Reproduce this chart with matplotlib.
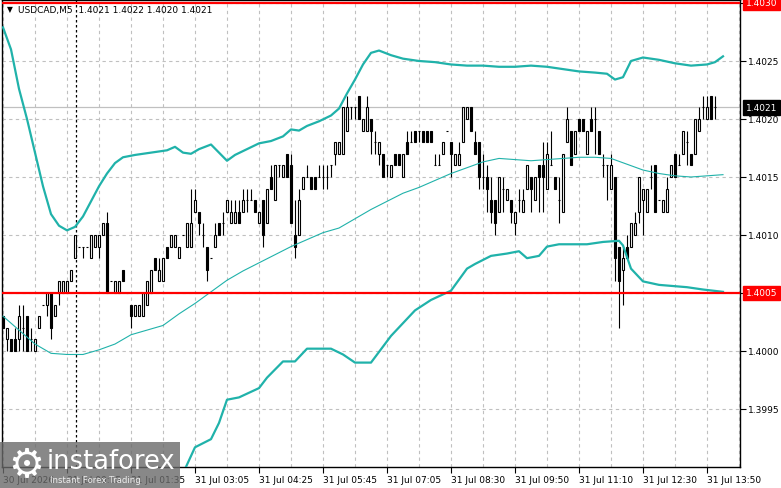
import numpy as np
import matplotlib.pyplot as plt
from matplotlib.patches import Rectangle

# USDCAD M5 candles (bar 0 = leftmost)
opens = [1.4003, 1.4001, 1.4001, 1.4001, 1.4001, 1.4002, 1.4003, 1.4001, 1.4000, 1.4002,
         1.4004, 1.4004, 1.4005, 1.4003, 1.4005, 1.4005, 1.4005, 1.4006, 1.4008, 1.4009,
         1.4009, 1.4009, 1.4008, 1.4009, 1.4009, 1.4010, 1.4011, 1.4006, 1.4005, 1.4005,
         1.4007, 1.4005, 1.4004, 1.4003, 1.4003, 1.4003, 1.4004, 1.4005, 1.4008, 1.4006,
         1.4006, 1.4009, 1.4009, 1.4009, 1.4008, 1.4010, 1.4009, 1.4009, 1.4012, 1.4012,
         1.4010, 1.4009, 1.4008, 1.4009, 1.4011, 1.4011, 1.4012, 1.4011, 1.4011, 1.4012,
         1.4012, 1.4013, 1.4013, 1.4013, 1.4011, 1.4013, 1.4011, 1.4015, 1.4013, 1.4016,
         1.4015, 1.4017, 1.4016, 1.4010, 1.4010, 1.4014, 1.4015, 1.4015, 1.4015, 1.4015,
         1.4015, 1.4015, 1.4016, 1.4017, 1.4017, 1.4017, 1.4019, 1.4021, 1.4021, 1.4022,
         1.4019, 1.4019, 1.4020, 1.4018, 1.4017, 1.4017, 1.4016, 1.4015, 1.4017, 1.4017,
         1.4015, 1.4018, 1.4018, 1.4019, 1.4019, 1.4019, 1.4019, 1.4019, 1.4016, 1.4016,
         1.4017, 1.4019, 1.4018, 1.4016, 1.4016, 1.4018, 1.4020, 1.4021, 1.4018, 1.4018,
         1.4015, 1.4015, 1.4013, 1.4013, 1.4012, 1.4014, 1.4013, 1.4013, 1.4011, 1.4013,
         1.4012, 1.4014, 1.4015, 1.4013, 1.4016, 1.4016, 1.4014, 1.4016, 1.4015, 1.4013,
         1.4012, 1.4018, 1.4019, 1.4017, 1.4020, 1.4020, 1.4017, 1.4020, 1.4020, 1.4019,
         1.4016, 1.4016, 1.4014, 1.4015, 1.4009, 1.4007, 1.4009, 1.4009, 1.4010, 1.4012,
         1.4013, 1.4012, 1.4015, 1.4016, 1.4013, 1.4012, 1.4012, 1.4015, 1.4017, 1.4016,
         1.4017, 1.4018, 1.4017, 1.4017, 1.4019, 1.4021, 1.4020, 1.4022, 1.4021]
highs = [1.4003, 1.4002, 1.4001, 1.4002, 1.4004, 1.4004, 1.4003, 1.4002, 1.4001, 1.4003,
         1.4004, 1.4005, 1.4005, 1.4004, 1.4006, 1.4006, 1.4006, 1.4007, 1.4010, 1.4009,
         1.4009, 1.4009, 1.4010, 1.4010, 1.4010, 1.4011, 1.4012, 1.4006, 1.4006, 1.4006,
         1.4007, 1.4005, 1.4004, 1.4004, 1.4004, 1.4005, 1.4006, 1.4007, 1.4008, 1.4008,
         1.4008, 1.4009, 1.4010, 1.4010, 1.4009, 1.4010, 1.4011, 1.4014, 1.4014, 1.4012,
         1.4011, 1.4009, 1.4008, 1.4011, 1.4011, 1.4012, 1.4013, 1.4013, 1.4013, 1.4013,
         1.4014, 1.4014, 1.4014, 1.4013, 1.4012, 1.4013, 1.4014, 1.4016, 1.4016, 1.4016,
         1.4016, 1.4017, 1.4017, 1.4013, 1.4014, 1.4015, 1.4016, 1.4015, 1.4015, 1.4016,
         1.4016, 1.4016, 1.4016, 1.4018, 1.4018, 1.4021, 1.4022, 1.4021, 1.4021, 1.4022,
         1.4020, 1.4022, 1.4020, 1.4019, 1.4018, 1.4017, 1.4016, 1.4016, 1.4017, 1.4017,
         1.4017, 1.4019, 1.4019, 1.4019, 1.4019, 1.4019, 1.4019, 1.4019, 1.4017, 1.4017,
         1.4018, 1.4019, 1.4018, 1.4017, 1.4018, 1.4021, 1.4021, 1.4021, 1.4019, 1.4018,
         1.4017, 1.4016, 1.4015, 1.4013, 1.4015, 1.4015, 1.4014, 1.4013, 1.4012, 1.4014,
         1.4014, 1.4016, 1.4015, 1.4015, 1.4016, 1.4018, 1.4018, 1.4019, 1.4015, 1.4015,
         1.4017, 1.4021, 1.4019, 1.4019, 1.4020, 1.4020, 1.4019, 1.4021, 1.4021, 1.4019,
         1.4017, 1.4016, 1.4017, 1.4015, 1.4009, 1.4009, 1.4010, 1.4011, 1.4012, 1.4015,
         1.4014, 1.4014, 1.4016, 1.4016, 1.4013, 1.4013, 1.4015, 1.4016, 1.4017, 1.4017,
         1.4019, 1.4019, 1.4017, 1.4020, 1.4021, 1.4022, 1.4022, 1.4022, 1.4022]
lows = [1.4002, 1.4000, 1.4000, 1.4000, 1.4000, 1.4000, 1.4000, 1.4000, 1.4000, 1.4002,
        1.4004, 1.4003, 1.4001, 1.4003, 1.4004, 1.4005, 1.4005, 1.4006, 1.4008, 1.4009,
        1.4008, 1.4009, 1.4008, 1.4009, 1.4008, 1.4010, 1.4005, 1.4006, 1.4005, 1.4005,
        1.4006, 1.4005, 1.4002, 1.4003, 1.4003, 1.4003, 1.4004, 1.4005, 1.4007, 1.4006,
        1.4006, 1.4008, 1.4009, 1.4009, 1.4008, 1.4010, 1.4009, 1.4009, 1.4012, 1.4010,
        1.4009, 1.4006, 1.4008, 1.4009, 1.4010, 1.4010, 1.4012, 1.4011, 1.4011, 1.4011,
        1.4012, 1.4012, 1.4013, 1.4012, 1.4011, 1.4009, 1.4011, 1.4014, 1.4013, 1.4015,
        1.4015, 1.4015, 1.4011, 1.4008, 1.4010, 1.4014, 1.4015, 1.4014, 1.4014, 1.4015,
        1.4014, 1.4014, 1.4015, 1.4016, 1.4017, 1.4017, 1.4019, 1.4020, 1.4020, 1.4020,
        1.4019, 1.4019, 1.4017, 1.4017, 1.4016, 1.4015, 1.4015, 1.4015, 1.4016, 1.4016,
        1.4015, 1.4017, 1.4018, 1.4018, 1.4018, 1.4018, 1.4018, 1.4018, 1.4016, 1.4016,
        1.4017, 1.4019, 1.4015, 1.4016, 1.4016, 1.4018, 1.4020, 1.4019, 1.4017, 1.4014,
        1.4014, 1.4012, 1.4011, 1.4010, 1.4012, 1.4012, 1.4013, 1.4011, 1.4010, 1.4012,
        1.4012, 1.4014, 1.4012, 1.4013, 1.4012, 1.4012, 1.4014, 1.4016, 1.4014, 1.4011,
        1.4012, 1.4018, 1.4016, 1.4017, 1.4019, 1.4019, 1.4017, 1.4019, 1.4017, 1.4017,
        1.4015, 1.4013, 1.4014, 1.4006, 1.4002, 1.4004, 1.4008, 1.4009, 1.4010, 1.4011,
        1.4010, 1.4012, 1.4014, 1.4012, 1.4013, 1.4012, 1.4012, 1.4015, 1.4015, 1.4016,
        1.4017, 1.4016, 1.4016, 1.4017, 1.4019, 1.4020, 1.4020, 1.4020, 1.4020]
closes = [1.4002, 1.4002, 1.4000, 1.4000, 1.4003, 1.4002, 1.4000, 1.4001, 1.4001, 1.4003,
          1.4004, 1.4005, 1.4002, 1.4004, 1.4006, 1.4006, 1.4006, 1.4007, 1.4010, 1.4009,
          1.4009, 1.4009, 1.4010, 1.4010, 1.4010, 1.4011, 1.4005, 1.4006, 1.4006, 1.4006,
          1.4006, 1.4005, 1.4003, 1.4004, 1.4004, 1.4005, 1.4006, 1.4007, 1.4007, 1.4007,
          1.4008, 1.4008, 1.4010, 1.4010, 1.4009, 1.4010, 1.4011, 1.4011, 1.4013, 1.4011,
          1.4010, 1.4007, 1.4008, 1.4010, 1.4010, 1.4011, 1.4013, 1.4012, 1.4012, 1.4011,
          1.4013, 1.4013, 1.4013, 1.4012, 1.4012, 1.4010, 1.4014, 1.4014, 1.4016, 1.4016,
          1.4016, 1.4015, 1.4011, 1.4009, 1.4013, 1.4015, 1.4015, 1.4014, 1.4014, 1.4015,
          1.4015, 1.4015, 1.4016, 1.4018, 1.4018, 1.4021, 1.4021, 1.4021, 1.4021, 1.4020,
          1.4020, 1.4021, 1.4019, 1.4018, 1.4018, 1.4015, 1.4016, 1.4016, 1.4016, 1.4016,
          1.4017, 1.4017, 1.4018, 1.4018, 1.4019, 1.4018, 1.4018, 1.4018, 1.4016, 1.4016,
          1.4018, 1.4019, 1.4017, 1.4017, 1.4017, 1.4021, 1.4021, 1.4019, 1.4017, 1.4015,
          1.4015, 1.4014, 1.4012, 1.4011, 1.4015, 1.4014, 1.4014, 1.4012, 1.4012, 1.4013,
          1.4013, 1.4016, 1.4014, 1.4015, 1.4015, 1.4015, 1.4017, 1.4016, 1.4014, 1.4013,
          1.4017, 1.4020, 1.4016, 1.4019, 1.4019, 1.4019, 1.4019, 1.4019, 1.4020, 1.4017,
          1.4016, 1.4016, 1.4016, 1.4008, 1.4006, 1.4008, 1.4008, 1.4011, 1.4011, 1.4015,
          1.4014, 1.4014, 1.4015, 1.4012, 1.4013, 1.4013, 1.4014, 1.4016, 1.4015, 1.4016,
          1.4019, 1.4018, 1.4016, 1.4020, 1.4020, 1.4021, 1.4021, 1.4020, 1.4021]

# Bollinger bands (20), sampled along the bars
upper_idx = [0, 2, 4, 6, 8, 10, 12, 14, 16, 18, 20, 22, 24, 26, 28, 30, 33, 37, 41, 43,
             45, 47, 49, 52, 54, 56, 58, 61, 64, 67, 70, 72, 74, 76, 79, 82, 84, 86, 88, 90,
             92, 94, 97, 100, 104, 108, 112, 116, 120, 124, 128, 132, 136, 140, 144, 148,
             151, 153, 155, 157, 160, 164, 168, 172, 176, 178, 180]
upper_val = [1.40279, 1.40260, 1.40226, 1.40200, 1.40171, 1.40142, 1.40118, 1.40108, 1.40104, 1.40107,
             1.40116, 1.40129, 1.40142, 1.40153, 1.40162, 1.40167, 1.40169, 1.40171, 1.40173, 1.40176,
             1.40171, 1.40170, 1.40174, 1.40178, 1.40171, 1.40164, 1.40169, 1.40174, 1.40179, 1.40181,
             1.40185, 1.40191, 1.40190, 1.40194, 1.40198, 1.40203, 1.40209, 1.40222, 1.40234, 1.40247,
             1.40257, 1.40259, 1.40255, 1.40252, 1.40250, 1.40249, 1.40247, 1.40246, 1.40246, 1.40245,
             1.40245, 1.40246, 1.40245, 1.40243, 1.40241, 1.40240, 1.40239, 1.40234, 1.40236, 1.40250,
             1.40253, 1.40251, 1.40248, 1.40246, 1.40247, 1.40249, 1.40254]
mid_idx = list(range(0, 181, 4))
mid_val = [1.40030, 1.40018, 1.40006, 1.39998, 1.39997, 1.39997, 1.40001, 1.40006, 1.40014, 1.40018,
           1.40022, 1.40032, 1.40041, 1.40051, 1.40061, 1.40069, 1.40076, 1.40083, 1.40090, 1.40096,
           1.40102, 1.40106, 1.40114, 1.40122, 1.40129, 1.40136, 1.40141, 1.40147, 1.40153, 1.40158,
           1.40163, 1.40166, 1.40165, 1.40164, 1.40165, 1.40166, 1.40167, 1.40167, 1.40166, 1.40161,
           1.40156, 1.40153, 1.40151, 1.40150, 1.40151, 1.40152]
lower_idx = [43, 46, 48, 52, 54, 56, 59, 64, 66, 70, 73, 76, 82, 85, 88, 92, 97, 103, 107, 112,
             116, 118, 122, 126, 129, 131, 134, 136, 139, 146, 150, 154, 155, 157, 160, 164, 171, 175, 180]
lower_val = [1.39880, 1.39902, 1.39917, 1.39924, 1.39938, 1.39958, 1.39960, 1.39968, 1.39977, 1.39991,
             1.39991, 1.40002, 1.40002, 1.39997, 1.39990, 1.39990, 1.40013, 1.40035, 1.40044, 1.40052,
             1.40071, 1.40075, 1.40082, 1.40084, 1.40086, 1.40080, 1.40082, 1.40090, 1.40092, 1.40092,
             1.40094, 1.40095, 1.40091, 1.40071, 1.40060, 1.40057, 1.40055, 1.40053, 1.40051]

red_levels = [1.4030, 1.4005]
bid_price = 1.4021
separator_bar = 18.25
price_ticks = [1.3995, 1.4000, 1.4005, 1.4010, 1.4015, 1.4020, 1.4025, 1.4030]
time_tick_bars = list(range(0, 177, 16))
time_labels = ['30 Jul 2026', '31 Jul 00:15', '31 Jul 01:35', '31 Jul 03:05', '31 Jul 04:25',
               '31 Jul 05:45', '31 Jul 07:05', '31 Jul 08:30', '31 Jul 09:50', '31 Jul 11:10',
               '31 Jul 12:30', '31 Jul 13:50']
header = 'USDCAD,M5  1.4021 1.4022 1.4020 1.4021'

plt.rcParams['font.family'] = ['DejaVu Sans']

W, H = 781, 489
fig = plt.figure(figsize=(W / 100, H / 100), dpi=100)
ax = fig.add_axes([2 / W, 21 / H, 738 / W, 467.5 / H])
ax.set_xlim(-0.25, 184.25)
ax.set_ylim(1.39900, 1.40303)

o = np.array(opens)
h = np.array(highs)
l = np.array(lows)
c = np.array(closes)
x = np.arange(len(o))

up = c > o + 1e-9
down = c < o - 1e-9
doji = ~(up | down)

ax.vlines(x, l, h, color='black', lw=0.8, zorder=3)
ax.bar(x[up], (c - o)[up], bottom=o[up], width=0.55, facecolor='white',
       edgecolor='black', lw=0.8, zorder=4)
ax.bar(x[down], (o - c)[down], bottom=c[down], width=0.55, facecolor='black',
       edgecolor='black', lw=0.8, zorder=4)
ax.hlines(c[doji], x[doji] - 0.35, x[doji] + 0.35, color='black', lw=0.8, zorder=4)

teal = '#20b2aa'
ax.plot(upper_idx, upper_val, color=teal, lw=1.6, zorder=5, solid_joinstyle='round')
ax.plot(lower_idx, lower_val, color=teal, lw=1.6, zorder=5, solid_joinstyle='round')
ax.plot(mid_idx, mid_val, color=teal, lw=0.8, zorder=5)

for lev in red_levels:
    ax.axhline(lev, color='red', lw=1.6, zorder=6)
ax.axhline(bid_price, color='#c0c0c0', lw=0.9, zorder=2)
ax.axvline(separator_bar, color='black', lw=0.9, ls=(0, (2, 2)), zorder=2)

# grid and axes
ax.set_xticks(time_tick_bars)
ax.set_xticks([b + 8 for b in time_tick_bars], minor=True)
ax.set_xticklabels(time_labels, fontsize=6.5, ha='left')
ax.tick_params(axis='x', which='major', length=4, width=0.8, pad=2)
ax.tick_params(axis='x', which='minor', length=0)

ax.yaxis.tick_right()
ax.set_yticks(price_ticks)
ax.set_yticklabels(['' if p in red_levels else f'{p:.4f}' for p in price_ticks], fontsize=6.5)
ax.tick_params(axis='y', length=4, width=0.8, pad=2)

ax.grid(True, which='both', axis='x', color='#c0c0c0', ls=(0, (3, 3)), lw=0.8, zorder=1)
ax.grid(True, which='major', axis='y', color='#c0c0c0', ls=(0, (3, 3)), lw=0.8, zorder=1)
ax.set_axisbelow(True)
for s in ax.spines.values():
    s.set_color('black')
    s.set_linewidth(1.0)

# price labels on the scale
for p, bg in [(red_levels[0], 'red'), (red_levels[1], 'red'), (bid_price, 'black')]:
    ax.annotate(f'{p:.4f}', xy=(1.0, p), xycoords=('axes fraction', 'data'),
                xytext=(4, 0), textcoords='offset points', va='center', ha='left',
                fontsize=6.5, color='white', annotation_clip=False, zorder=8,
                bbox=dict(boxstyle='square,pad=0.3', facecolor=bg, edgecolor=bg))

fig.text(10 / W, 1 - 10 / H, '\u25bc', fontsize=5.5, ha='center', va='center')
fig.text(18 / W, 1 - 10 / H, header, fontsize=6.5, ha='left', va='center')

# watermark
fig.patches.append(Rectangle((0, 0), 180 / W, 46 / H, transform=fig.transFigure,
                             facecolor='#6a6a6a', alpha=0.8, zorder=10))
fig.text(26 / W, 1 - 466 / H, '\u2699', fontsize=29, color='white',
         ha='center', va='center', zorder=11)
fig.text(47 / W, 1 - 462 / H, 'instaforex', fontsize=18.5, color='white',
         ha='left', va='center', zorder=11)
fig.text(50 / W, 1 - 481 / H, 'Instant Forex Trading', fontsize=6.2, color='#eeeeee',
         ha='left', va='center', zorder=11)

fig.savefig('out.png', dpi=100)
